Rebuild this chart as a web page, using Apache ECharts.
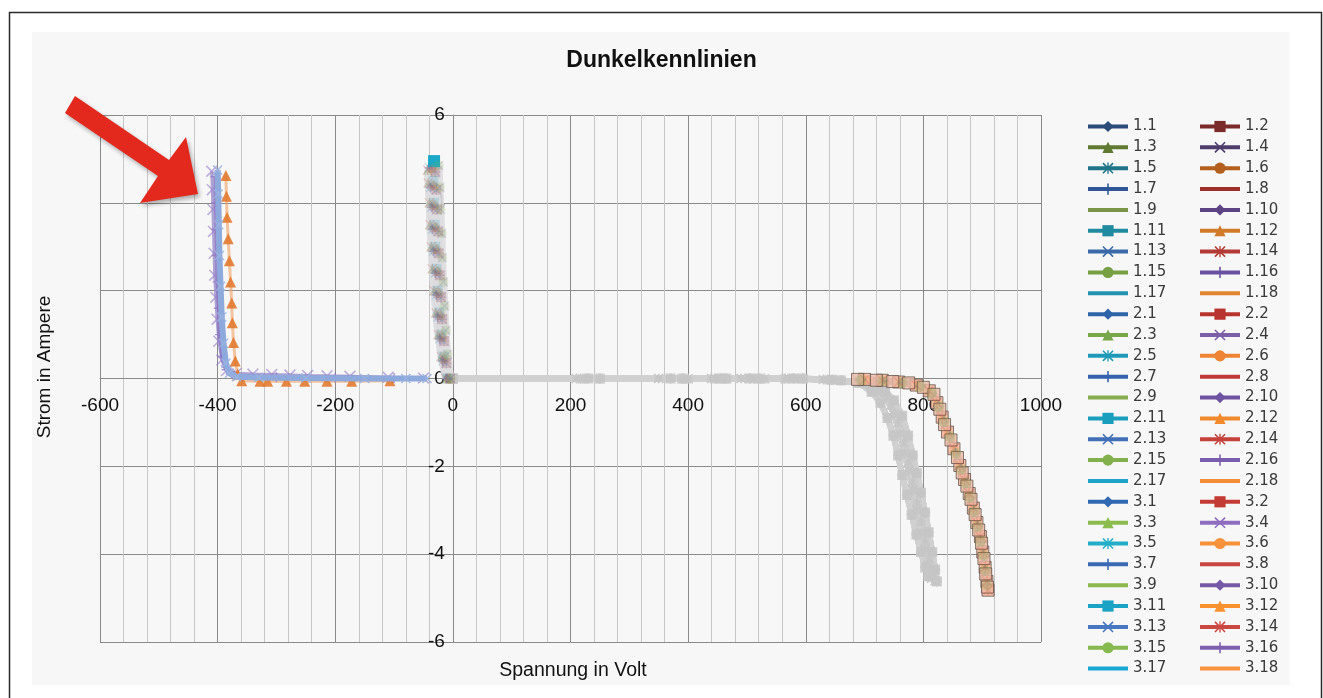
<!DOCTYPE html>
<html>
<head>
<meta charset="utf-8">
<script src="https://cdn.jsdelivr.net/npm/echarts@6/dist/echarts.min.js"></script>
<style>html,body{margin:0;padding:0;background:#fff}#c{width:1323px;height:698px}</style>
</head>
<body>
<div id="c"></div>
<script>
// ---------------- DATA ----------------
const chartTitle = 'Dunkelkennlinien';
const xAxisTitle = 'Spannung in Volt';
const yAxisTitle = 'Strom in Ampere';
const xTicks = { min: -600, max: 1000, step: 200 };
const yTicks = { min: -6, max: 6, step: 2 };

const seriesNames = [
  '1.1','1.2','1.3','1.4','1.5','1.6','1.7','1.8','1.9','1.10','1.11','1.12','1.13','1.14','1.15','1.16','1.17','1.18',
  '2.1','2.2','2.3','2.4','2.5','2.6','2.7','2.8','2.9','2.10','2.11','2.12','2.13','2.14','2.15','2.16','2.17','2.18',
  '3.1','3.2','3.3','3.4','3.5','3.6','3.7','3.8','3.9','3.10','3.11','3.12','3.13','3.14','3.15','3.16','3.17','3.18'
];

// forward curves (grey band, ends near 815 V)
const fwdGrayA = [[0,0],[210,0],[350,0],[440,0],[490,0],[570,0],[630,-0.02],[700,-0.1],[722,-0.25],[737,-0.43],[750,-0.8],[760,-1.25],[768,-1.7],[775,-2.1],[782,-2.55],[789,-3.0],[796,-3.5],[802,-3.9],[808,-4.25],[814,-4.55]];
const fwdGrayB = [[0,0],[230,0],[370,0],[455,0],[505,0],[580,0],[645,-0.03],[710,-0.12],[735,-0.3],[750,-0.5],[764,-0.85],[774,-1.3],[782,-1.75],[789,-2.15],[796,-2.6],[803,-3.05],[809,-3.5],[815,-3.95],[820,-4.35],[823,-4.62]];
const fwdGrayC = [[0,0],[250,0],[390,0],[465,0],[520,0],[595,0],[660,-0.04],[690,-0.1],[712,-0.3],[727,-0.55],[739,-0.9],[749,-1.3],[757,-1.75],[764,-2.2],[772,-2.65],[780,-3.1],[788,-3.55],[796,-3.95],[803,-4.3],[808,-4.5]];
const fwdGrayD = [[0,0],[220,0],[400,0],[445,0],[530,0],[565,0],[640,-0.02],[700,-0.1],[728,-0.3],[745,-0.6],[757,-1.0],[767,-1.45],[775,-1.9],[782,-2.35],[789,-2.8],[796,-3.25],[803,-3.7],[810,-4.1],[817,-4.45],[820,-4.6]];
// forward curves (salmon band, ends near 905 V)
const fwdSalA = [[688,-0.02],[720,-0.04],[748,-0.07],[775,-0.1],[800,-0.2],[818,-0.36],[828,-0.7],[836,-1.05],[847,-1.4],[858,-1.8],[866,-2.15],[874,-2.45],[881,-2.75],[888,-3.1],[894,-3.45],[899,-3.75],[903,-4.1],[906,-4.45],[909,-4.75]];
const fwdSalB = [[700,-0.02],[730,-0.04],[758,-0.08],[788,-0.15],[810,-0.28],[823,-0.55],[832,-0.88],[841,-1.22],[852,-1.6],[862,-1.98],[870,-2.3],[878,-2.62],[885,-2.95],[891,-3.28],[897,-3.6],[901,-3.95],[905,-4.3],[908,-4.62],[910,-4.82]];
const fwdSalC = [[694,-0.03],[730,-0.05],[764,-0.09],[795,-0.18],[814,-0.33],[826,-0.64],[835,-0.98],[845,-1.32],[855,-1.7],[864,-2.06],[872,-2.38],[879,-2.7],[886,-3.02],[892,-3.36],[897,-3.7],[902,-4.02],[905,-4.36],[908,-4.7]];
// curves near 0 V rising to ~5 A
const nzA = [[-8,0],[-14,0.45],[-18,0.95],[-21,1.45],[-24,1.95],[-26,2.45],[-28,2.95],[-30,3.45],[-32,3.95],[-33,4.4],[-35,4.8]];
const nzB = [[-5,0],[-11,0.35],[-15,0.85],[-18,1.35],[-20,1.85],[-22,2.35],[-24,2.85],[-25,3.35],[-27,3.85],[-28,4.3],[-30,4.7]];
const nzC = [[-12,0],[-20,0.5],[-25,1.0],[-29,1.5],[-32,2.0],[-35,2.5],[-37,3.0],[-39,3.5],[-40,4.0],[-42,4.45],[-43,4.75]];
const nzD = [[-4,0],[-9,0.55],[-12,1.1],[-14,1.65],[-16,2.2],[-18,2.75],[-19,3.3],[-21,3.85],[-22,4.35],[-24,4.85]];
const nzE = [[-10,0],[-17,0.4],[-22,0.9],[-26,1.4],[-28,1.9],[-30,2.4],[-33,2.9],[-35,3.4],[-36,3.9],[-38,4.35],[-40,4.8]];
const nzTop = [[-9,0],[-16,0.5],[-20,1.0],[-23,1.5],[-26,2.0],[-28,2.5],[-30,3.0],[-31,3.5],[-32,4.0],[-33,4.5],[-32,4.95]];
// reverse curves near -400 V
const revX = [[-410,4.72],[-409,4.3],[-408,3.85],[-407,3.35],[-406,2.85],[-405,2.35],[-403,1.85],[-401,1.35],[-398,0.85],[-393,0.42],[-385,0.18],[-368,0.12],[-340,0.1],[-308,0.09],[-277,0.08],[-247,0.07],[-214,0.06],[-175,0.05],[-110,0.03],[-50,0.01]];
const revTri = [[-386,4.62],[-385,4.15],[-384,3.67],[-382,3.18],[-380,2.68],[-378,2.2],[-376,1.72],[-375,1.27],[-373,0.82],[-370,0.4],[-366,0.1],[-359,-0.05],[-328,-0.06],[-315,-0.06],[-283,-0.06],[-252,-0.06],[-214,-0.06],[-172,-0.06],[-107,-0.05]];
const revLine = [[-400,4.75],[-399,4.2],[-398,3.5],[-397,2.8],[-395,2.1],[-393,1.4],[-390,0.8],[-386,0.35],[-380,0.12],[-368,0.04],[-330,0.02],[-250,0.01],[-150,0.0],[-80,0.0],[-44,0.0]];
const revPurple = [[-404,4.6],[-403,4.0],[-402,3.4],[-401,2.8],[-400,2.2],[-398,1.6],[-396,1.0],[-392,0.5],[-385,0.2],[-372,0.06],[-300,0.03],[-200,0.02],[-100,0.01]];

// which measured curve belongs to which series (same order as seriesNames)
const seriesCurve = [
  'fwdGrayA','fwdGrayB','fwdGrayC','fwdGrayD','fwdGrayA','fwdGrayB','fwdGrayC','fwdGrayD','fwdGrayA','fwdGrayB','fwdGrayC','fwdGrayD','fwdGrayA','fwdGrayB','fwdGrayC','fwdGrayD','fwdGrayA','fwdGrayB',
  'nzA','nzB','nzC','nzD','nzE','nzA','nzB','nzC','nzD','nzE','nzTop','nzA','nzB','nzC','nzD','nzE','nzA','nzB',
  'fwdSalA','fwdSalB','fwdSalC','revX','fwdSalA','fwdSalB','fwdSalC','fwdSalA','fwdSalB','fwdSalC','fwdSalA','revTri','revLine','fwdSalB','fwdSalC','revPurple','fwdSalA','fwdSalB'
];

// ---------------- STYLE ----------------
const legendColors = [
  '#2a4a78','#7a2a28','#5f7a30','#4e3d6b','#1f7489','#b45f1c','#2f5597','#9c2f2b','#7a9448','#5c4384','#1f8aa0','#d07a2a','#3a6aa8','#b43a38','#76a043','#6a50a0','#2391b0','#e38632',
  '#2e64a8','#b8352f','#78a748','#7b60a8','#1e9ab8','#ee8434','#3462ad','#bf3a36','#86ad4d','#6e53a0','#1a9ebd','#f08a2c','#4170b8','#c5413b','#82b04c','#7a5cae','#1ea4c6','#f48c36',
  '#3068b2','#c23b34','#8bbd4e','#8e6cc0','#22aec8','#f7913a','#3a6ab5','#c8463f','#8db84f','#7658a8','#1aa3c4','#f7922f','#4876c0','#cb4842','#86b94e','#7e5fae','#17a8d4','#f9933f'
];
const SYM_X = 'path://M1,0 L5,4 L9,0 L10,1 L6,5 L10,9 L9,10 L5,6 L1,10 L0,9 L4,5 L0,1 Z';
const SYM_STAR = 'path://M1,0 L5,4 L9,0 L10,1 L6,5 L10,9 L9,10 L5,6 L1,10 L0,9 L4,5 L0,1 Z M4.4,0 L5.6,0 L5.6,10 L4.4,10 Z';
const SYM_PLUS = 'path://M4.3,0 L5.7,0 L5.7,10 L4.3,10 Z M0,4.3 L10,4.3 L10,5.7 L0,5.7 Z';
const markerCycle = ['diamond','rect','triangle',SYM_X,SYM_STAR,'circle',SYM_PLUS,'none','none'];

const curves = {fwdGrayA,fwdGrayB,fwdGrayC,fwdGrayD,fwdSalA,fwdSalB,fwdSalC,nzA,nzB,nzC,nzD,nzE,nzTop,revX,revTri,revLine,revPurple};

function styleFor(curveName, i) {
  const col = legendColors[i];
  const sym = markerCycle[i % 9];
  if (curveName.startsWith('fwdGray')) {
    return {z:3, lineStyle:{color:'#d0d0d0', width:6, opacity:0.85},
            itemStyle:{color:'#c6c6c6', opacity:0.7}, symbolSize:10};
  }
  if (curveName.startsWith('nz')) {
    return {z:4, lineStyle:{color:'#dcdce0', width:7, opacity:0.55},
            itemStyle:{color:col, opacity:0.2}, symbolSize:10};
  }
  if (curveName.startsWith('fwdSal')) {
    if (sym === 'rect') {
      return {z:5, lineStyle:{color:'#f4b8a3', width:6, opacity:0.9},
              itemStyle:{color:'#f2b9a4', borderColor:'#5e4b40', borderWidth:1, opacity:0.75}, symbolSize:12};
    }
    return {z:5, lineStyle:{color:'#f4b8a3', width:6, opacity:0.9},
            itemStyle:{color:col, opacity:0.22}, symbolSize:11};
  }
  if (curveName === 'revX') return {z:6, lineStyle:{color:'#9b8bcb', width:3, opacity:0.8}, itemStyle:{color:'#9a82c8', opacity:0.6}, symbolSize:12};
  if (curveName === 'revTri') return {z:6, lineStyle:{color:'#f0a060', width:3, opacity:0.6}, itemStyle:{color:'#e27a30', opacity:0.9}, symbolSize:11};
  if (curveName === 'revPurple') return {z:6, lineStyle:{color:'#8c74c2', width:4, opacity:0.85}, itemStyle:{color:'#8c74c2', opacity:0.7}, symbolSize:10};
  return {z:7, lineStyle:{color:'#8eaadc', width:6, opacity:1}, itemStyle:{color:'#9ab2e0', opacity:0.9}, symbolSize:10};
}

const series = seriesNames.map((name, i) => {
  const cname = seriesCurve[i];
  const st = styleFor(cname, i);
  const pts = curves[cname];
  const data = pts.map((p, k) => {
    if (cname === 'nzTop' && k === pts.length - 1) {
      return {value: p, itemStyle: {color: '#19a8c6', opacity: 1}, symbolSize: 12};
    }
    return p;
  });
  return {
    name, type:'line', data, z: st.z,
    symbol: markerCycle[i % 9], symbolSize: st.symbolSize,
    showSymbol: markerCycle[i % 9] !== 'none',
    lineStyle: st.lineStyle, itemStyle: st.itemStyle,
    emphasis: {disabled: true}, silent: true, animation: false, clip: true
  };
});

function legendItem(i) {
  const none = markerCycle[i % 9] === 'none';
  return {
    name: seriesNames[i],
    itemStyle: none ? {color:'rgba(0,0,0,0)', opacity:0, borderWidth:0}
                    : {color: legendColors[i], opacity:1, borderWidth:0},
    lineStyle: {color: legendColors[i], width:4, opacity:1}
  };
}
const leftCol = [], rightCol = [];
seriesNames.forEach((n, i) => (i % 2 === 0 ? leftCol : rightCol).push(legendItem(i)));

const legendBase = {
  orient:'vertical', top:119, itemWidth:40, itemHeight:14, itemGap:5.85, padding:0,
  height:600, selectedMode:false,
  textStyle:{fontSize:15, lineHeight:15, color:'#3a3a3a', fontFamily:'DejaVu Sans'}
};

// pixel offsets that move the axes onto the origin (grid: left 100, top 115, 941 x 527)
const gridBox = {left:100, top:115, width:941, height:527};
const yAxisShift = -(0 - xTicks.min) / (xTicks.max - xTicks.min) * gridBox.width;
const xAxisShift = -(0 - yTicks.min) / (yTicks.max - yTicks.min) * gridBox.height;
const plainNum = v => String(v);

const chart = echarts.init(document.getElementById('c'), null, {renderer:'canvas'});
chart.setOption({
  backgroundColor:'#ffffff',
  animation:false,
  title:{text:chartTitle, left:'center', top:44,
         textStyle:{fontSize:23, fontWeight:'bold', color:'#111', fontFamily:'Liberation Sans'}},
  grid:Object.assign({outerBoundsMode:'none', containLabel:false}, gridBox),
  xAxis:{type:'value', min:xTicks.min, max:xTicks.max, interval:xTicks.step,
    position:'bottom', offset:xAxisShift,
    axisLine:{onZero:false, lineStyle:{color:'#8a8a8a', width:1}},
    axisTick:{show:false},
    axisLabel:{fontSize:19, color:'#111', margin:18, fontFamily:'Liberation Sans', formatter:plainNum,
               showMinLabel:true, showMaxLabel:true, hideOverlap:false},
    splitLine:{show:true, lineStyle:{color:'#8a8a8a', width:1}},
    minorTick:{show:false, splitNumber:5},
    minorSplitLine:{show:true, lineStyle:{color:'#c6c6c6', width:1}}},
  yAxis:{type:'value', min:yTicks.min, max:yTicks.max, interval:yTicks.step,
    position:'left', offset:yAxisShift,
    axisLine:{onZero:false, lineStyle:{color:'#8a8a8a', width:1}},
    axisTick:{show:false},
    axisLabel:{fontSize:19, color:'#111', margin:8, fontFamily:'Liberation Sans', formatter:plainNum,
               showMinLabel:true, showMaxLabel:true, hideOverlap:false},
    splitLine:{show:true, lineStyle:{color:'#8a8a8a', width:1}}},
  legend:[
    Object.assign({}, legendBase, {left:1086, data:leftCol}),
    Object.assign({}, legendBase, {left:1198, data:rightCol})
  ],
  graphic:{elements:[
    {type:'rect', z:-10, silent:true, shape:{x:9.5, y:12.5, width:1312, height:700},
     style:{fill:'#ffffff', stroke:'#2a2a2a', lineWidth:1.5}},
    {type:'rect', z:-9, silent:true, shape:{x:32, y:32, width:1258, height:653},
     style:{fill:'#f7f7f7'}},
    {type:'text', z:5, silent:true, x:573, y:671,
     style:{text:xAxisTitle, fontSize:19.5, fontFamily:'Liberation Sans', fill:'#111', align:'center', verticalAlign:'middle'}},
    {type:'text', z:5, silent:true, x:45, y:367, rotation:Math.PI/2,
     style:{text:yAxisTitle, fontSize:19, fontFamily:'Liberation Sans', fill:'#111', align:'center', verticalAlign:'middle'}},
    {type:'polygon', z:100, silent:true,
     shape:{points:[[75,96],[169,160],[186,137],[198,194],[140,203],[158,176],[65,113]]},
     style:{fill:'#e3281d', shadowBlur:4, shadowColor:'rgba(0,0,0,0.3)', shadowOffsetX:2, shadowOffsetY:3}}
  ]},
  series
});
</script>
</body>
</html>
